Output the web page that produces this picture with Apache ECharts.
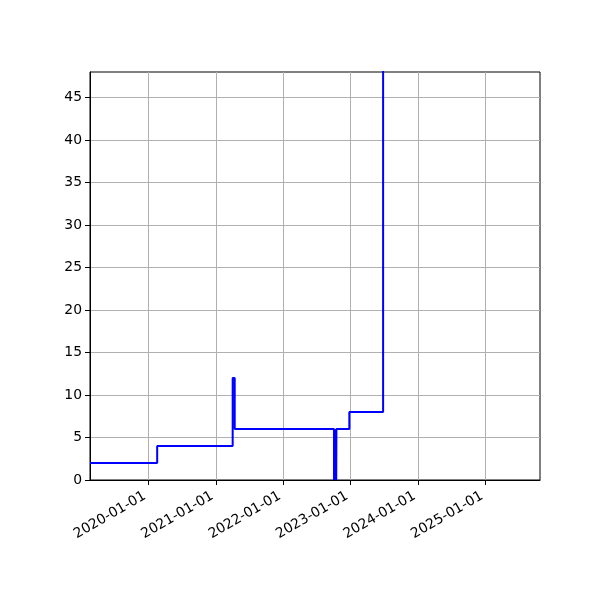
<!DOCTYPE html>
<html>
<head>
<meta charset="utf-8">
<script src="https://cdn.jsdelivr.net/npm/echarts@6/dist/echarts.min.js"></script>
<style>html,body{margin:0;padding:0;background:#fff}#c{width:600px;height:600px}</style>
</head>
<body>
<div id="c"></div>
<script>
var dates = ['2019-02-19','2020-02-18','2021-04-02','2021-04-13',
  '2022-10-03','2022-10-04','2022-10-05','2022-10-06','2022-10-07','2022-10-08','2022-10-09',
  '2022-10-10','2022-10-11','2022-10-12','2022-10-13','2022-10-14','2022-10-15','2022-10-16',
  '2022-12-25','2023-06-26'];
var values = [2,4,12,6,
  0,6,0,6,0,6,0,
  6,0,6,0,6,0,6,
  8,100];
var xTickLabels = ['2020-01-01','2021-01-01','2022-01-01','2023-01-01','2024-01-01','2025-01-01'];
var yTicks = [0,5,10,15,20,25,30,35,40,45];
var xMin = '2019-02-19', xMax = '2025-10-23';

function ts(s){ var p = s.split('-'); return Date.UTC(+p[0], +p[1]-1, +p[2]); }
var seriesData = dates.map(function(d,i){ return [ts(d), values[i]]; });
var xTicks = xTickLabels.map(ts);
function fmt(v){ var d = new Date(v); var m = d.getUTCMonth()+1, dd = d.getUTCDate();
  return d.getUTCFullYear()+'-'+(m<10?'0':'')+m+'-'+(dd<10?'0':'')+dd; }

var chart = echarts.init(document.getElementById('c'));
var font = 'DejaVu Sans';
chart.setOption({
  animation: false,
  grid: {left: 90, right: 60, top: 72, bottom: 120, show: true, borderColor: '#000', borderWidth: 1, backgroundColor: 'transparent'},
  xAxis: {
    type: 'value', min: ts(xMin), max: ts(xMax), scale: true,
    axisLine: {show: true, onZero: false, lineStyle: {color: '#000', width: 1}},
    axisTick: {show: true, inside: false, length: 5, lineStyle: {color: '#000'}, customValues: xTicks},
    axisLabel: {show: true, customValues: xTicks, formatter: fmt, rotate: 30, margin: 13,
      padding: [0, 4, 0, 0], color: '#000', fontFamily: font, fontSize: 13.9},
    splitLine: {show: true, lineStyle: {color: '#b0b0b0', width: 1}},
    minorTick: {show: false}
  },
  yAxis: {
    type: 'value', min: 0, max: 48,
    axisLine: {show: true, lineStyle: {color: '#000', width: 1}},
    axisTick: {show: true, inside: false, length: 5, lineStyle: {color: '#000'}, customValues: yTicks},
    axisLabel: {show: true, customValues: yTicks, margin: 8, color: '#000', fontFamily: font, fontSize: 13.9},
    splitLine: {show: true, lineStyle: {color: '#b0b0b0', width: 1}}
  },
  series: [{
    type: 'line', step: 'end', data: seriesData, showSymbol: false, clip: true,
    lineStyle: {color: '#0000ff', width: 2}, itemStyle: {color: '#0000ff'}
  }]
});
</script>
</body>
</html>
